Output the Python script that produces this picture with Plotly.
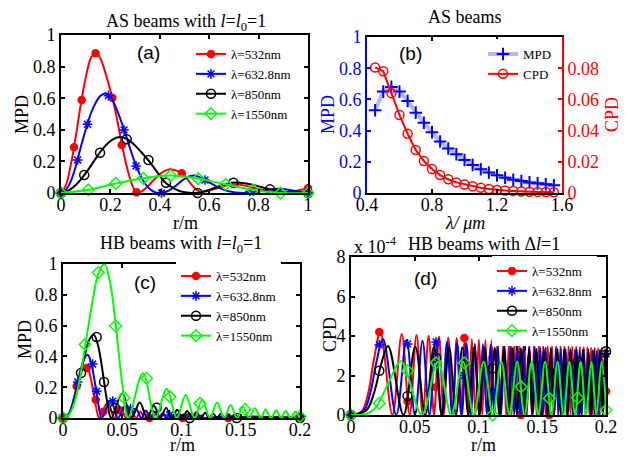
import plotly.graph_objects as go

SERIF = "Liberation Serif"
SANS = "Liberation Sans"
RED, BLUE, BLACK, GREEN = "#ff0000", "#0000ff", "#000000", "#00ff00"
MPD_LINE = "rgb(178,186,246)"
W, H = 628, 457
NAMES = ["λ=532nm", "λ=632.8nm", "λ=850nm", "λ=1550nm"]

# ---------------- (a) AS beams, MPD versus r ----------------
A_RED_R = [0, 0.02, 0.04, 0.06, 0.08, 0.10, 0.12, 0.14, 0.16, 0.18, 0.20, 0.22, 0.24, 0.26, 0.28, 0.30,
           0.32, 0.35, 0.38, 0.41, 0.44, 0.47, 0.50, 0.53, 0.56, 0.60, 0.65, 0.70, 0.75, 0.80, 0.85, 0.89, 0.94, 1.0]
A_RED_V = [0, 0.05, 0.18, 0.36, 0.56, 0.73, 0.85, 0.89, 0.85, 0.76, 0.65, 0.52, 0.36, 0.21, 0.09, 0.015,
           0.005, 0.04, 0.09, 0.13, 0.15, 0.14, 0.11, 0.05, 0.01, 0.015, 0.04, 0.055, 0.045, 0.025, 0.008, 0.002, 0.01, 0.03]
A_RED_MR = [0, 0.0526, 0.0837, 0.14, 0.208, 0.246, 0.306, 0.489, 1.0]
A_RED_MV = [0, 0.289, 0.589, 0.884, 0.603, 0.304, 0.004, 0.125, 0.03]

A_BLUE_R = [0, 0.02, 0.04, 0.06, 0.08, 0.10, 0.12, 0.14, 0.16, 0.18, 0.20, 0.22, 0.24, 0.26, 0.28, 0.30, 0.32,
            0.34, 0.36, 0.38, 0.40, 0.43, 0.46, 0.50, 0.54, 0.58, 0.62, 0.66, 0.70, 0.74, 0.78, 0.82, 0.86, 0.90, 0.95, 1.0]
A_BLUE_V = [0, 0.02, 0.075, 0.17, 0.29, 0.40, 0.50, 0.57, 0.615, 0.63, 0.61, 0.55, 0.47, 0.38, 0.28, 0.19, 0.115,
            0.06, 0.025, 0.005, 0.0, 0.01, 0.04, 0.09, 0.11, 0.085, 0.05, 0.02, 0.005, 0.0, 0.005, 0.015, 0.025, 0.025, 0.012, 0.0]
A_BLUE_MR = [0, 0.0675, 0.107, 0.192, 0.255, 0.304, 0.407, 0.583, 0.765, 1.0]
A_BLUE_MV = [0, 0.209, 0.435, 0.616, 0.399, 0.171, 0.0, 0.082, 0.01, 0.0]

A_BLACK_R = [0, 0.03, 0.06, 0.09, 0.12, 0.15, 0.18, 0.21, 0.24, 0.27, 0.30, 0.33, 0.36, 0.39, 0.42, 0.45,
             0.48, 0.51, 0.55, 0.60, 0.65, 0.70, 0.75, 0.80, 0.85, 0.90, 0.95, 1.0]
A_BLACK_V = [0, 0.015, 0.05, 0.105, 0.17, 0.24, 0.30, 0.34, 0.355, 0.34, 0.30, 0.25, 0.195, 0.13, 0.07, 0.035,
             0.013, 0.003, 0.0, 0.02, 0.048, 0.066, 0.06, 0.042, 0.022, 0.008, 0.002, 0.0]
A_BLACK_MR = [0, 0.094, 0.158, 0.266, 0.354, 0.425, 0.553, 0.698, 0.846, 1.0]
A_BLACK_MV = [0, 0.114, 0.255, 0.34, 0.209, 0.065, 0.0, 0.065, 0.023, 0.0]

A_GREEN_R = [0, 0.111, 0.222, 0.333, 0.444, 0.556, 0.667, 0.778, 0.889, 1.0]
A_GREEN_V = [0, 0.02, 0.06, 0.093, 0.11, 0.09, 0.055, 0.02, 0.0, 0.0]

# ---------------- (b) AS beams, MPD and CPD versus wavelength ----------------
B_LAMBDA = [0.45, 0.50, 0.55, 0.60, 0.65, 0.70, 0.75, 0.80, 0.85, 0.90, 0.95, 1.00,
            1.05, 1.10, 1.15, 1.20, 1.25, 1.30, 1.35, 1.40, 1.45, 1.50, 1.55]
B_MPD = [0.53, 0.65, 0.68, 0.65, 0.59, 0.515, 0.45, 0.39, 0.33, 0.285, 0.248, 0.212,
         0.18, 0.152, 0.131, 0.113, 0.098, 0.085, 0.077, 0.068, 0.062, 0.056, 0.05]
B_CPD = [0.0805, 0.078, 0.064, 0.050, 0.038, 0.0276, 0.0205, 0.0154, 0.0115, 0.0088, 0.0068, 0.0055,
         0.0043, 0.0033, 0.0026, 0.0020, 0.0016, 0.0013, 0.0010, 0.0008, 0.0007, 0.0006, 0.0005]

# ---------------- (c) HB beams, MPD versus r ----------------
# main lobe, then side-lobe peaks / zeros, then the flat tail
C_RED_MAIN_R = [0, 0.0028, 0.0056, 0.0083, 0.0111, 0.0139, 0.0167, 0.0194, 0.0222, 0.025, 0.0278, 0.0306]
C_RED_MAIN_V = [0, 0.007, 0.037, 0.099, 0.18, 0.258, 0.32, 0.34, 0.296, 0.194, 0.075, 0.0]
C_RED_PEAK_R = [0.0375, 0.0486, 0.0575, 0.0653, 0.0722, 0.0786, 0.0844, 0.09, 0.095, 0.1, 0.1044, 0.1089]
C_RED_PEAK_V = [0.099, 0.065, 0.051, 0.041, 0.034, 0.029, 0.024, 0.021, 0.019, 0.017, 0.015, 0.014]
C_RED_ZERO_R = [0.0433, 0.0533, 0.0617, 0.0689, 0.0756, 0.0817, 0.0872, 0.0928, 0.0975, 0.1022, 0.1067, 0.111]
C_RED_TAIL_R = [0.13, 0.16, 0.2]
C_RED_TAIL_V = [0.006, 0.004, 0.002]
C_RED_MR = [0, 0.0115, 0.020, 0.0276, 0.034, 0.048, 0.073, 0.101, 0.1395, 0.2]
C_RED_MV = [0, 0.206, 0.325, 0.119, 0.04, 0.05, 0.0, 0.0, 0.0, 0.0]

C_BLUE_MAIN_R = [0, 0.003, 0.006, 0.0089, 0.0119, 0.0149, 0.0179, 0.0208, 0.0238, 0.0268, 0.0298, 0.0327]
C_BLUE_MAIN_V = [0, 0.008, 0.045, 0.119, 0.217, 0.312, 0.385, 0.41, 0.357, 0.234, 0.09, 0.0]
C_BLUE_PEAK_R = [0.0402, 0.0521, 0.0616, 0.0699, 0.0774, 0.0842, 0.0905, 0.0964, 0.1018, 0.1071, 0.1119, 0.1167]
C_BLUE_PEAK_V = [0.116, 0.076, 0.06, 0.048, 0.04, 0.034, 0.029, 0.025, 0.022, 0.02, 0.018, 0.016]
C_BLUE_ZERO_R = [0.0464, 0.0571, 0.0661, 0.0738, 0.081, 0.0875, 0.0935, 0.0994, 0.1045, 0.1095, 0.1143, 0.119]
C_BLUE_TAIL_R = [0.14, 0.17, 0.2]
C_BLUE_TAIL_V = [0.008, 0.004, 0.002]
C_BLUE_MR = [0.0124, 0.025, 0.0284, 0.042, 0.057, 0.09, 0.2]
C_BLUE_MV = [0.234, 0.35, 0.174, 0.11, 0.06, 0.02, 0.0]

C_BLACK_MAIN_R = [0, 0.0037, 0.0074, 0.0111, 0.0148, 0.0185, 0.0222, 0.0259, 0.0296, 0.0333, 0.037, 0.0407]
C_BLACK_MAIN_V = [0, 0.011, 0.059, 0.157, 0.286, 0.41, 0.508, 0.54, 0.47, 0.308, 0.119, 0.0]
C_BLACK_PEAK_R = [0.05, 0.0648, 0.0767, 0.087, 0.0963, 0.1048, 0.1126, 0.12, 0.1267, 0.1333, 0.1393, 0.1452]
C_BLACK_PEAK_V = [0.16, 0.1, 0.08, 0.065, 0.054, 0.046, 0.039, 0.034, 0.03, 0.027, 0.024, 0.022]
C_BLACK_ZERO_R = [0.0578, 0.0711, 0.0822, 0.0919, 0.1007, 0.1089, 0.1163, 0.1237, 0.13, 0.1363, 0.1422, 0.148]
C_BLACK_TAIL_R = [0.16, 0.175, 0.2]
C_BLACK_TAIL_V = [0.01, 0.005, 0.003]
C_BLACK_MR = [0, 0.0152, 0.0284, 0.0346, 0.0439, 0.079, 0.107, 0.1466, 0.2]
C_BLACK_MV = [0, 0.292, 0.526, 0.234, 0.065, 0.067, 0.0, 0.0, 0.0]

C_GREEN_MAIN_R = [0, 0.005, 0.01, 0.015, 0.02, 0.025, 0.03, 0.035, 0.04, 0.045, 0.05, 0.055]
C_GREEN_MAIN_V = [0, 0.02, 0.11, 0.29, 0.53, 0.76, 0.94, 1.0, 0.87, 0.57, 0.22, 0.0]
C_GREEN_PEAK_R = [0.0675, 0.0875, 0.1035, 0.1175, 0.13, 0.1415, 0.152, 0.162, 0.171, 0.18, 0.188, 0.196]
C_GREEN_PEAK_V = [0.29, 0.19, 0.15, 0.12, 0.10, 0.085, 0.072, 0.063, 0.056, 0.05, 0.045, 0.04]
C_GREEN_ZERO_R = [0.078, 0.096, 0.111, 0.124, 0.136, 0.147, 0.157, 0.167, 0.1755, 0.184, 0.192, 0.2]
C_GREEN_MR = [0, 0.0186, 0.0298, 0.0445, 0.0515, 0.0706, 0.0903, 0.1156, 0.1536, 0.2]
C_GREEN_MV = [0, 0.478, 0.944, 0.597, 0.132, 0.257, 0.138, 0.095, 0.056, 0.01]

# ---------------- (d) HB beams, CPD (x 1e-4) versus r ----------------
D_MARK_R = [0, 0.0222, 0.0444, 0.0667, 0.0889, 0.1111, 0.1333, 0.1556, 0.1778, 0.2]

D_RED_RISE_R = [0, 0.008, 0.013, 0.018]
D_RED_RISE_V = [0, 0.15, 0.97, 2.8]
D_RED_PEAK_R = [0.0230, 0.0398, 0.0514, 0.0609, 0.0690, 0.0763, 0.0829, 0.0891, 0.0948, 0.1003,
                0.1054, 0.1103, 0.1150, 0.1195, 0.1239, 0.1281, 0.1321, 0.1361, 0.1399, 0.1436,
                0.1473, 0.1508, 0.1543, 0.1577, 0.1610, 0.1643, 0.1674, 0.1706, 0.1736, 0.1767,
                0.1796, 0.1826, 0.1854, 0.1883, 0.1911, 0.1938, 0.1965, 0.1992]
D_RED_PEAK_V = [4.20, 4.10, 4.05, 4.01, 3.97, 3.93, 3.90, 3.88, 3.85, 3.82,
                3.80, 3.78, 3.76, 3.74, 3.72, 3.70, 3.68, 3.66, 3.64, 3.63,
                3.61, 3.59, 3.58, 3.56, 3.55, 3.53, 3.52, 3.50, 3.49, 3.48,
                3.46, 3.45, 3.44, 3.42, 3.41, 3.40, 3.39, 3.37]
D_RED_ZERO_R = [0.0325, 0.0460, 0.0563, 0.0651, 0.0727, 0.0797, 0.0861, 0.0920, 0.0976, 0.1029,
                0.1079, 0.1127, 0.1173, 0.1217, 0.1260, 0.1301, 0.1341, 0.1380, 0.1418, 0.1455,
                0.1491, 0.1526, 0.1560, 0.1593, 0.1626, 0.1659, 0.1690, 0.1721, 0.1752, 0.1782,
                0.1811, 0.1840, 0.1869, 0.1897, 0.1924, 0.1952, 0.1979, 0.2006]
D_RED_MV = [0, 4.2, 0.7, 1.4, 3.9, 2.9, 0.0, 0.0, 0.5, 1.2]

D_BLUE_RISE_R = [0, 0.01, 0.015, 0.02]
D_BLUE_RISE_V = [0, 0.23, 1.08, 2.7]
D_BLUE_PEAK_R = [0.0251, 0.0435, 0.0561, 0.0664, 0.0753, 0.0832, 0.0905, 0.0972, 0.1035, 0.1094,
                 0.1150, 0.1204, 0.1255, 0.1304, 0.1352, 0.1398, 0.1442, 0.1485, 0.1527, 0.1567,
                 0.1607, 0.1646, 0.1684, 0.1721, 0.1757, 0.1792, 0.1827, 0.1861, 0.1895, 0.1928,
                 0.1960, 0.1992]
D_BLUE_PEAK_V = [3.85, 3.80, 3.76, 3.72, 3.69, 3.66, 3.64, 3.61, 3.59, 3.57,
                 3.55, 3.53, 3.51, 3.49, 3.48, 3.46, 3.45, 3.43, 3.42, 3.40,
                 3.39, 3.37, 3.36, 3.35, 3.33, 3.32, 3.31, 3.30, 3.28, 3.27,
                 3.26, 3.25]
D_BLUE_ZERO_R = [0.0355, 0.0502, 0.0615, 0.0710, 0.0794, 0.0869, 0.0939, 0.1004, 0.1065, 0.1123,
                 0.1177, 0.1230, 0.1280, 0.1328, 0.1375, 0.1420, 0.1464, 0.1506, 0.1547, 0.1587,
                 0.1627, 0.1665, 0.1702, 0.1739, 0.1775, 0.1810, 0.1844, 0.1878, 0.1912, 0.1944,
                 0.1976, 0.2008]
D_BLUE_MV = [0, 3.55, 3.6, 3.7, 2.0, 1.2, 0.3, 1.2, 0.3, 3.1]

D_BLACK_RISE_R = [0, 0.012, 0.018, 0.024]
D_BLACK_RISE_V = [0, 0.24, 1.1, 2.66]
D_BLACK_PEAK_R = [0.0291, 0.0504, 0.0651, 0.0770, 0.0873, 0.0965, 0.1049, 0.1127, 0.1200, 0.1268,
                  0.1334, 0.1396, 0.1455, 0.1512, 0.1567, 0.1620, 0.1672, 0.1722, 0.1770, 0.1817,
                  0.1863, 0.1908, 0.1952, 0.1995]
D_BLACK_PEAK_V = [3.50, 3.47, 3.46, 3.44, 3.43, 3.42, 3.41, 3.40, 3.39, 3.39,
                  3.38, 3.37, 3.36, 3.36, 3.35, 3.34, 3.34, 3.33, 3.33, 3.32,
                  3.32, 3.31, 3.31, 3.30]
D_BLACK_ZERO_R = [0.0412, 0.0582, 0.0713, 0.0823, 0.0920, 0.1008, 0.1089, 0.1164, 0.1235, 0.1301,
                  0.1365, 0.1426, 0.1484, 0.1540, 0.1594, 0.1646, 0.1697, 0.1746, 0.1794, 0.1840,
                  0.1886, 0.1930, 0.1974, 0.2016]
D_BLACK_MV = [0, 2.24, 0.96, 2.9, 2.6, 2.36, 3.4, 2.19, 2.7, 3.23]

D_GREEN_RISE_R = [0, 0.01, 0.015, 0.02, 0.03]
D_GREEN_RISE_V = [0, 0.03, 0.14, 0.42, 1.7]
D_GREEN_PEAK_R = [0.0393, 0.0681, 0.0879, 0.1040, 0.1179, 0.1303, 0.1417, 0.1522, 0.1620, 0.1713,
                  0.1801, 0.1885, 0.1965]
D_GREEN_PEAK_V = [2.72, 2.70, 2.70, 2.70, 2.70, 2.70, 2.70, 2.70, 2.70, 2.70, 2.70, 2.70, 2.70]
D_GREEN_ZERO_R = [0.0556, 0.0786, 0.0963, 0.1112, 0.1243, 0.1361, 0.1470, 0.1572, 0.1667, 0.1757,
                  0.1843, 0.1925, 0.2004]
D_GREEN_MV = [0, 0.59, 2.24, 2.64, 2.64, 0.0, 1.43, 0.84, 0.87, 0.25]


def lobes(start_r, start_v, peak_r, peak_v, zero_r, tail_r=(), tail_v=()):
    """Join a leading segment with alternating peak / zero points and an optional tail."""
    r, v = list(start_r), list(start_v)
    for pr, pv, zr in zip(peak_r, peak_v, zero_r):
        r += [pr, zr]
        v += [pv, 0.0]
    return r + list(tail_r), v + list(tail_v)


STYLES = [
    dict(color=RED, symbol="circle", size=7),
    dict(color=BLUE, symbol="asterisk-open", size=8),
    dict(color=BLACK, symbol="circle-open", size=9),
    dict(color=GREEN, symbol="diamond-open", size=9),
]

fig = go.Figure()


def add_series(xa, ya, legend, idx, line_r, line_v, mark_r, mark_v):
    st = STYLES[idx]
    marker = dict(color=st["color"], symbol=st["symbol"], size=st["size"],
                  line=dict(color=st["color"], width=1.5))
    fig.add_trace(go.Scatter(x=line_r, y=line_v, mode="lines", xaxis=xa, yaxis=ya,
                             line=dict(color=st["color"], width=2, shape="spline"),
                             showlegend=False, hoverinfo="skip"))
    fig.add_trace(go.Scatter(x=mark_r, y=mark_v, mode="markers", xaxis=xa, yaxis=ya,
                             marker=marker, cliponaxis=False, showlegend=False, hoverinfo="skip"))
    fig.add_trace(go.Scatter(x=[None], y=[None], mode="lines+markers", xaxis=xa, yaxis=ya,
                             line=dict(color=st["color"], width=2), marker=marker,
                             name=NAMES[idx], legend=legend))


# (a)
add_series("x", "y", "legend", 0, A_RED_R, A_RED_V, A_RED_MR, A_RED_MV)
add_series("x", "y", "legend", 1, A_BLUE_R, A_BLUE_V, A_BLUE_MR, A_BLUE_MV)
add_series("x", "y", "legend", 2, A_BLACK_R, A_BLACK_V, A_BLACK_MR, A_BLACK_MV)
add_series("x", "y", "legend", 3, A_GREEN_R, A_GREEN_V, A_GREEN_R, A_GREEN_V)

# (b)
fig.add_trace(go.Scatter(x=B_LAMBDA, y=B_MPD, mode="lines+markers", xaxis="x2", yaxis="y2",
                         name="MPD", legend="legend2", cliponaxis=False,
                         line=dict(color=MPD_LINE, width=4),
                         marker=dict(symbol="cross-thin-open", size=9, color=BLUE,
                                     line=dict(color=BLUE, width=2))))
fig.add_trace(go.Scatter(x=B_LAMBDA, y=B_CPD, mode="lines+markers", xaxis="x2", yaxis="y3",
                         name="CPD", legend="legend2", cliponaxis=False,
                         line=dict(color=RED, width=2),
                         marker=dict(symbol="circle-open", size=9, color=RED,
                                     line=dict(color=RED, width=1.5))))

# (c)
c_series = [
    (C_RED_MAIN_R, C_RED_MAIN_V, C_RED_PEAK_R, C_RED_PEAK_V, C_RED_ZERO_R, C_RED_TAIL_R, C_RED_TAIL_V, C_RED_MR, C_RED_MV),
    (C_BLUE_MAIN_R, C_BLUE_MAIN_V, C_BLUE_PEAK_R, C_BLUE_PEAK_V, C_BLUE_ZERO_R, C_BLUE_TAIL_R, C_BLUE_TAIL_V, C_BLUE_MR, C_BLUE_MV),
    (C_BLACK_MAIN_R, C_BLACK_MAIN_V, C_BLACK_PEAK_R, C_BLACK_PEAK_V, C_BLACK_ZERO_R, C_BLACK_TAIL_R, C_BLACK_TAIL_V, C_BLACK_MR, C_BLACK_MV),
    (C_GREEN_MAIN_R, C_GREEN_MAIN_V, C_GREEN_PEAK_R, C_GREEN_PEAK_V, C_GREEN_ZERO_R, (), (), C_GREEN_MR, C_GREEN_MV),
]
for i, (mr, mv, pr, pv, zr, tr, tv, kr, kv) in enumerate(c_series):
    lr, lv = lobes(mr, mv, pr, pv, zr, tr, tv)
    add_series("x3", "y4", "legend3", i, lr, lv, kr, kv)

# (d)
d_series = [
    (D_RED_RISE_R, D_RED_RISE_V, D_RED_PEAK_R, D_RED_PEAK_V, D_RED_ZERO_R, D_RED_MV),
    (D_BLUE_RISE_R, D_BLUE_RISE_V, D_BLUE_PEAK_R, D_BLUE_PEAK_V, D_BLUE_ZERO_R, D_BLUE_MV),
    (D_BLACK_RISE_R, D_BLACK_RISE_V, D_BLACK_PEAK_R, D_BLACK_PEAK_V, D_BLACK_ZERO_R, D_BLACK_MV),
    (D_GREEN_RISE_R, D_GREEN_RISE_V, D_GREEN_PEAK_R, D_GREEN_PEAK_V, D_GREEN_ZERO_R, D_GREEN_MV),
]
for i, (sr, sv, pr, pv, zr, kv) in enumerate(d_series):
    lr, lv = lobes(sr, sv, pr, pv, zr)
    add_series("x4", "y5", "legend4", i, lr, lv, D_MARK_R, kv)


def px_x(a, b):
    return [a / W, b / W]


def px_y(top, bottom):
    return [1 - bottom / H, 1 - top / H]


TICKFONT = dict(family=SERIF, size=18, color="black")


def axis(**kw):
    base = dict(showline=True, linecolor="black", linewidth=2, mirror="ticks", ticks="inside",
                ticklen=4, tickwidth=1.5, tickcolor="black", showgrid=False, zeroline=False,
                tickfont=TICKFONT, automargin=False, fixedrange=True)
    base.update(kw)
    return base


def xaxis(**kw):
    return axis(ticklabelstandoff=-6, **kw)


TICK01 = [0, 0.2, 0.4, 0.6, 0.8, 1]
TICK01_TXT = ["0", "0.2", "0.4", "0.6", "0.8", "1"]
TICK_R = [0, 0.05, 0.1, 0.15, 0.2]
TICK_R_TXT = ["0", "0.05", "0.1", "0.15", "0.2"]

layout_axes = dict(
    xaxis=xaxis(domain=px_x(61, 308), range=[0, 1], anchor="y", tickvals=TICK01, ticktext=TICK01_TXT),
    yaxis=axis(domain=px_y(35, 193), range=[0, 1], anchor="x", tickvals=TICK01, ticktext=TICK01_TXT),
    xaxis2=xaxis(domain=px_x(367, 562), range=[0.4, 1.6], anchor="y2",
                 tickvals=[0.4, 0.8, 1.2, 1.6], ticktext=["0.4", "0.8", "1.2", "1.6"]),
    yaxis2=axis(domain=px_y(37, 193), range=[0, 1], anchor="x2", mirror=False,
                linecolor=BLUE, tickcolor=BLUE, tickvals=TICK01, ticktext=TICK01_TXT,
                tickfont=dict(family=SERIF, size=18, color=BLUE)),
    yaxis3=axis(range=[0, 0.1], anchor="x2", overlaying="y2", side="right", mirror=False,
                linecolor=RED, tickcolor=RED, tickvals=[0, 0.02, 0.04, 0.06, 0.08],
                ticktext=["0", "0.02", "0.04", "0.06", "0.08"],
                tickfont=dict(family=SERIF, size=18, color=RED)),
    xaxis3=xaxis(domain=px_x(63, 300), range=[0, 0.2], anchor="y4", tickvals=TICK_R, ticktext=TICK_R_TXT),
    yaxis4=axis(domain=px_y(264, 418), range=[0, 1], anchor="x3", tickvals=TICK01, ticktext=TICK01_TXT),
    xaxis4=xaxis(domain=px_x(351, 606), range=[0, 0.2], anchor="y5", tickvals=TICK_R, ticktext=TICK_R_TXT),
    yaxis5=axis(domain=px_y(257, 415), range=[0, 8], anchor="x4", tickvals=[0, 2, 4, 6, 8],
                ticktext=["0", "2", "4", "6", "8"]),
)


def legend_at(left, top):
    return dict(x=left / W, y=1 - top / H, xanchor="left", yanchor="top", bgcolor="white",
                borderwidth=0, font=dict(family=SERIF, size=13, color="black"),
                itemwidth=30, tracegroupgap=0, itemclick=False, itemdoubleclick=False)


def note(text, x, y, size=18, color="black", family=SERIF, angle=0, xanchor="center"):
    return dict(text=text, x=x / W, y=1 - y / H, xref="paper", yref="paper", showarrow=False,
                xanchor=xanchor, yanchor="middle", textangle=angle,
                font=dict(family=family, size=size, color=color))


annotations = [
    note("AS beams with <i>l</i>=<i>l</i><sub>0</sub>=1", 186, 22),
    note("AS beams", 465, 17),
    note("HB beams with <i>l</i>=<i>l</i><sub>0</sub>=1", 181, 244),
    note("HB beams with Δ<i>l</i>=1", 484, 244),
    note("x 10<sup>-4</sup>", 352, 245, xanchor="left"),
    note("(a)", 148, 52, size=19, family=SANS),
    note("(b)", 410, 53, size=19, family=SANS),
    note("(c)", 145, 282, size=19, family=SANS),
    note("(d)", 425, 278, size=19, family=SANS),
    note("MPD", 22, 115, angle=-90),
    note("r/m", 185, 223),
    note("MPD", 328, 115, color=BLUE, angle=-90),
    note("CPD", 612, 115, color=RED, angle=-90),
    note("<i>λ/ μm</i>", 465, 223),
    note("MPD", 25, 340, angle=-90),
    note("r/m", 182, 445),
    note("CPD", 330, 335, angle=-90),
    note("r/m", 483, 445),
]

fig.update_layout(
    width=W, height=H, margin=dict(l=0, r=0, t=0, b=0),
    paper_bgcolor="white", plot_bgcolor="white",
    font=dict(family=SERIF, color="black"),
    showlegend=True, hovermode=False,
    legend=legend_at(191, 39),
    legend2=legend_at(483, 39),
    legend3=legend_at(176, 261),
    legend4=legend_at(492, 256),
    annotations=annotations,
    **layout_axes,
)

fig.write_html("out.html")
